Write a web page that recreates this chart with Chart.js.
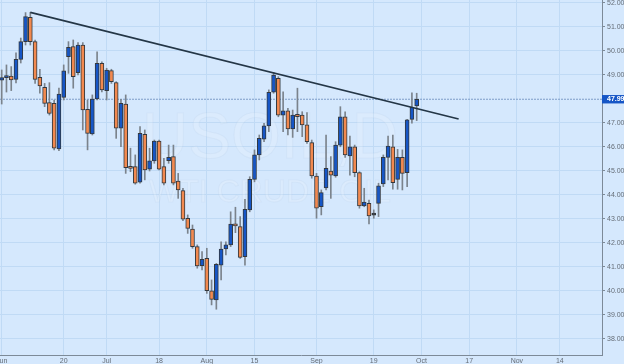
<!DOCTYPE html>
<html><head><meta charset="utf-8">
<script src="https://cdn.jsdelivr.net/npm/chart.js@4/dist/chart.umd.min.js"></script>
<style>
html,body{margin:0;padding:0;background:#d5e8fd;overflow:hidden;width:624px;height:364px;}
#wrap{position:absolute;left:-20px;top:-10px;width:644px;height:374px;}
</style></head><body>
<div id="wrap"><canvas id="c" width="644" height="374"></canvas></div>
<script>
// Daily candles, 1 Jun 2016 .. 30 Sep 2016 (one per weekday)
const openP  = [48.78,48.89,48.96,48.82,49.65,50.39,51.40,50.39,48.90,48.49,47.85,47.82,45.92,48.07,49.76,50.18,49.10,50.25,47.57,46.54,48.00,49.49,48.35,49.18,48.68,46.78,47.79,45.18,45.18,44.53,46.53,45.08,45.42,46.25,45.18,45.43,45.60,44.58,44.18,43.03,42.58,41.85,41.06,41.36,40.01,39.63,41.08,41.75,41.92,42.78,42.68,41.43,43.38,44.65,45.67,46.33,46.88,48.28,48.86,47.33,47.51,46.75,47.36,47.33,46.92,46.18,44.79,43.51,44.30,45.00,44.79,46.08,47.26,45.63,46.01,44.93,43.55,43.65,43.16,43.65,44.46,45.57,46.01,44.65,45.57,44.93,47.15,47.71];
const highP  = [49.21,49.42,49.35,49.92,50.54,51.60,51.61,50.46,49.24,48.65,48.68,47.96,48.45,49.42,50.39,50.46,50.35,50.35,47.96,48.17,49.97,49.55,49.28,49.24,48.72,47.99,48.17,45.95,45.67,46.85,46.71,45.95,46.29,46.29,45.53,46.08,46.08,44.90,44.28,43.17,42.75,41.92,41.64,41.78,40.46,41.15,42.05,42.05,43.30,43.49,43.10,43.82,44.76,45.88,46.50,46.99,48.38,49.10,48.93,48.30,47.61,47.54,48.45,47.47,47.43,46.29,44.90,44.21,46.50,45.60,46.22,47.68,47.47,46.46,46.08,44.97,44.28,43.79,43.38,44.49,45.67,46.46,46.50,45.90,45.88,47.15,48.26,48.24];
const lowP   = [47.79,48.29,48.35,48.67,49.50,50.25,50.25,48.65,48.24,47.68,47.33,45.88,45.85,47.96,49.07,48.45,49.00,46.71,45.88,46.50,47.96,48.30,47.96,48.65,46.36,46.01,44.90,44.97,44.45,44.49,44.63,45.00,45.32,45.04,44.42,45.32,44.42,43.86,42.93,42.40,41.78,40.95,40.88,39.90,39.42,39.24,40.46,41.50,41.85,42.43,41.36,41.08,43.30,44.55,45.46,46.22,46.64,48.24,47.26,46.64,46.50,46.40,46.64,46.43,46.15,44.70,43.03,43.17,44.21,43.86,44.74,46.01,45.57,44.83,44.76,43.45,43.51,42.79,43.03,43.10,44.35,44.63,44.24,44.24,44.21,44.35,46.99,47.10];
const closeP = [48.89,48.97,48.79,49.65,50.39,51.43,50.39,48.82,48.54,47.82,47.40,45.95,48.20,49.17,50.15,48.93,50.25,47.54,46.57,48.00,49.49,48.38,49.21,48.72,46.78,47.82,45.14,45.11,44.49,46.57,45.04,45.42,46.25,45.08,44.49,45.57,44.49,44.21,42.99,42.61,41.85,41.04,41.32,40.01,39.65,41.11,41.75,41.92,42.79,42.71,41.40,43.40,44.65,45.67,46.36,46.88,48.28,49.00,47.33,47.51,46.75,47.33,47.26,46.92,46.22,44.79,43.45,44.10,45.11,44.83,46.08,47.26,45.67,46.01,44.93,43.54,43.70,43.13,43.16,44.38,45.57,46.04,44.51,45.57,44.90,47.13,47.65,47.99];

const xTickPos    = [0, 13, 22, 33, 43, 53, 66, 78, 88, 98, 108, 117];
const xTickLabels = ['Jun','20','Jul','18','Aug','15','Sep','19','Oct','17','Nov','14'];
const yTickVals   = [38,39,40,41,42,43,44,45,46,47,47.99,49,50,51,52];
const lastPrice   = 47.99;
const trendX      = [6, 95.8];
const trendY      = [51.61, 47.17];
const watermark   = ['USOIL,D', 'WTI CRUDE OIL'];

const X_MIN = -0.356, X_MAX = 125.85, Y_MIN = 37.333, Y_MAX = 52.125;
const UP = '#1656c6', DOWN = '#f2894f', DOJI = '#2a2f35';
const GRID = '#c0daf5', TXT = '#646c76', AXIS = '#7d8a98';
const FONT = '"Liberation Sans", Arial, sans-serif';

Chart.defaults.font.family = FONT;
Chart.defaults.font.size = 7;

const wicks = lowP.map((l, i) => ({x: i, y: [l, highP[i]]}));
const bodies = openP.map((o, i) => ({x: i, y: [Math.min(o, closeP[i]), Math.max(o, closeP[i])]}));
const bodyColors = openP.map((o, i) => closeP[i] > o ? UP : (closeP[i] < o ? DOWN : DOJI));

const wmPlugin = {
  id: 'wm',
  beforeDatasetsDraw(chart) {
    const ctx = chart.ctx, a = chart.chartArea;
    ctx.save();
    ctx.fillStyle = 'rgba(255,255,255,0.16)';
    ctx.strokeStyle = 'rgba(175,200,230,0.18)';
    ctx.lineWidth = 1;
    ctx.textAlign = 'center';
    ctx.textBaseline = 'middle';
    const cx = a.left + 270;
    ctx.font = '64px ' + FONT;
    ctx.fillText(watermark[0], cx, a.top + 140);
    ctx.strokeText(watermark[0], cx, a.top + 140);
    ctx.font = '32px ' + FONT;
    ctx.fillText(watermark[1], cx, a.top + 193);
    ctx.strokeText(watermark[1], cx, a.top + 193);
    ctx.restore();
  }
};

new Chart(document.getElementById('c'), {
  type: 'bar',
  data: {
    datasets: [
      { type: 'line', data: trendX.map((x, i) => ({x, y: trendY[i]})), borderColor: '#243646', borderWidth: 1.6, pointRadius: 0, order: -1 },
      { type: 'bar', data: bodies, backgroundColor: bodyColors, borderColor: '#33383e', borderWidth: 1, borderSkipped: false, barThickness: 4, minBarLength: 2, grouped: false, order: 0 },
      { type: 'bar', data: wicks, backgroundColor: '#7b838c', borderWidth: 0, barThickness: 1, grouped: false, order: 1 },
      { type: 'line', data: [{x: X_MIN, y: lastPrice}, {x: X_MAX, y: lastPrice}], borderColor: '#7d9cc8', borderWidth: 1, borderDash: [2, 1], pointRadius: 0, order: 2 }
    ]
  },
  options: {
    responsive: false,
    devicePixelRatio: 1,
    animation: false,
    layout: { padding: { left: 20, top: 10, right: 0, bottom: 0 } },
    plugins: { legend: { display: false }, tooltip: { enabled: false } },
    scales: {
      x: {
        type: 'linear', position: 'bottom', min: X_MIN, max: X_MAX, offset: false,
        grid: { color: GRID, drawTicks: false, offset: false },
        border: { color: AXIS, width: 1 },
        ticks: { color: TXT, padding: 2, autoSkip: false, maxRotation: 0,
          callback: (v) => { const k = xTickPos.indexOf(v); return k >= 0 ? xTickLabels[k] : ''; } },
        afterBuildTicks: (s) => { s.ticks = xTickPos.map(v => ({value: v})); },
        afterFit: (s) => { s.height = 9; }
      },
      y: {
        type: 'linear', position: 'right', min: Y_MIN, max: Y_MAX,
        grid: { color: (c) => (c.tick && c.tick.value === lastPrice) ? 'rgba(0,0,0,0)' : GRID,
                tickColor: AXIS, tickLength: 3 },
        border: { color: AXIS, width: 1 },
        ticks: {
          padding: 2,
          color: (c) => (c.tick && c.tick.value === lastPrice) ? '#ffffff' : TXT,
          font: (c) => (c.tick && c.tick.value === lastPrice) ? { size: 7, weight: 'bold' } : { size: 7 },
          showLabelBackdrop: (c) => !!(c.tick && c.tick.value === lastPrice),
          backdropColor: '#1656c6',
          backdropPadding: { top: 0, bottom: 0, left: 5, right: 2 },
          callback: (v) => Number(v).toFixed(2)
        },
        afterBuildTicks: (s) => { s.ticks = yTickVals.map(v => ({value: v})); },
        afterFit: (s) => { s.width = 22; }
      }
    }
  },
  plugins: [wmPlugin]
});
</script>
</body></html>
